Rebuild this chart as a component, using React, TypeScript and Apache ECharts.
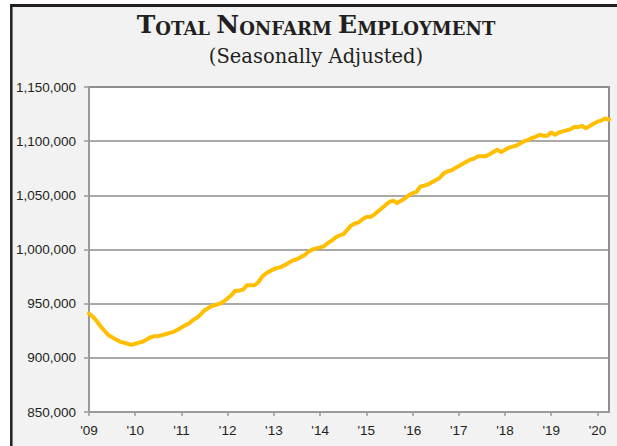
import React, { useEffect, useRef } from "react";
import * as echarts from "echarts";

const startYear = 2009;
const months: string[] = [];
for (let i = 0; i < 136; i++) {
  const y = startYear + Math.floor(i / 12);
  const m = (i % 12) + 1;
  months.push(`${y}-${m < 10 ? "0" + m : m}`);
}

const employment: number[] = [
  941000, 938000, 934000, 929000, 925000, 921000, 919000, 917000, 915000, 914000, 913000, 912000,
  913000, 914000, 915000, 917000, 919000, 920000, 920000, 921000, 922000, 923000, 924000, 926000,
  928000, 930000, 932000, 935000, 937000, 940000, 944000, 946000, 948000, 949000, 950000, 952000,
  955000, 958000, 962000, 962000, 963000, 967000, 967000, 967000, 970000, 975000, 978000, 980000,
  982000, 983000, 984000, 986000, 988000, 990000, 991000, 993000, 995000, 998000, 1000000, 1001000,
  1002000, 1003000, 1006000, 1008000, 1011000, 1013000, 1014000, 1018000, 1022000, 1024000, 1025000, 1028000,
  1030000, 1030000, 1032000, 1035000, 1038000, 1041000, 1044000, 1045000, 1043000, 1045000, 1047000, 1050000,
  1052000, 1053000, 1058000, 1059000, 1060000, 1062000, 1064000, 1066000, 1070000, 1072000, 1073000, 1075000,
  1077000, 1079000, 1081000, 1083000, 1084000, 1086000, 1086000, 1086000, 1088000, 1090000, 1092000, 1090000,
  1092000, 1094000, 1095000, 1096000, 1098000, 1100000, 1101000, 1103000, 1104000, 1106000, 1105000, 1105000,
  1108000, 1106000, 1108000, 1109000, 1110000, 1111000, 1113000, 1113000, 1114000, 1112000, 1114000, 1116000,
  1118000, 1119000, 1121000, 1120000,
];

const yMin = 850000;
const yMax = 1150000;
const yStep = 50000;

const titleText = "{b|T}{s|OTAL }{b|N}{s|ONFARM }{b|E}{s|MPLOYMENT}";
const subtitleText = "(Seasonally Adjusted)";

const serif = "'DejaVu Serif', serif";

export default function App() {
  const ref = useRef<HTMLDivElement>(null);
  useEffect(() => {
    if (!ref.current) return;
    const chart = echarts.init(ref.current, undefined, { renderer: "svg" });
    const isJan = (idx: number) => idx % 12 === 0;
    chart.setOption({
      animation: false,
      backgroundColor: "#f2f2f2",
      grid: {
        left: 89,
        right: 8,
        top: 87,
        bottom: 34,
        show: true,
        backgroundColor: "#ffffff",
        borderColor: "#8f8f8f",
        borderWidth: 2,
      },
      xAxis: {
        type: "category",
        data: months,
        boundaryGap: false,
        axisLine: { show: true, lineStyle: { color: "#9a9a9a", width: 2 } },
        axisTick: { show: true, interval: (i: number) => isJan(i), length: 4, lineStyle: { color: "#9a9a9a", width: 1.5 } },
        axisLabel: {
          interval: (i: number) => isJan(i),
          formatter: (v: string) => "'" + v.slice(2, 4),
          color: "#231f20",
          fontFamily: "Liberation Sans, Arial, sans-serif",
          fontSize: 13.5,
          margin: 11,
        },
        splitLine: { show: false },
      },
      yAxis: {
        type: "value",
        min: yMin,
        max: yMax,
        interval: yStep,
        axisLine: { show: true, lineStyle: { color: "#9a9a9a", width: 2 } },
        axisTick: { show: true, length: 5, lineStyle: { color: "#9a9a9a", width: 1.5 } },
        axisLabel: {
          formatter: (v: number) => v.toLocaleString("en-US"),
          color: "#231f20",
          fontFamily: "Liberation Sans, Arial, sans-serif",
          fontSize: 13.5,
          margin: 13,
        },
        splitLine: { show: true, lineStyle: { color: "#8c8c8c", width: 1.5 } },
      },
      series: [
        {
          type: "line",
          data: employment,
          showSymbol: false,
          symbol: "none",
          lineStyle: { color: "#FFBE00", width: 4, cap: "round", join: "round" },
          z: 5,
        },
      ],
      graphic: [
        { type: "rect", shape: { x: 0, y: 0, width: 617, height: 4 }, style: { fill: "#ffffff" }, z: 100 },
        { type: "rect", shape: { x: 0, y: 0, width: 10, height: 446 }, style: { fill: "#ffffff" }, z: 100 },
        { type: "line", shape: { x1: 10, y1: 5.5, x2: 617, y2: 5.5 }, style: { stroke: "#231f20", lineWidth: 3 }, z: 101 },
        { type: "line", shape: { x1: 11.3, y1: 4, x2: 11.3, y2: 446 }, style: { stroke: "#231f20", lineWidth: 2.5 }, z: 101 },
        {
          type: "text",
          x: 316,
          y: 37,
          z: 101,
          style: {
            text: titleText,
            align: "center",
            verticalAlign: "bottom",
            fill: "#231f20",
            rich: {
              b: { fontFamily: serif, fontWeight: "bold", fontSize: 25, fill: "#231f20", verticalAlign: "bottom", lineHeight: 25 },
              s: { fontFamily: serif, fontWeight: "bold", fontSize: 18, fill: "#231f20", verticalAlign: "bottom", lineHeight: 25 },
            },
          },
        },
        {
          type: "text",
          x: 316,
          y: 56,
          z: 101,
          style: {
            text: subtitleText,
            align: "center",
            verticalAlign: "middle",
            fill: "#231f20",
            fontFamily: serif,
            fontSize: 19.5,
          },
        },
      ],
    });
    return () => chart.dispose();
  }, []);
  return <div ref={ref} style={{ position: "fixed", left: 0, top: 0, width: 617, height: 446 }} />;
}
